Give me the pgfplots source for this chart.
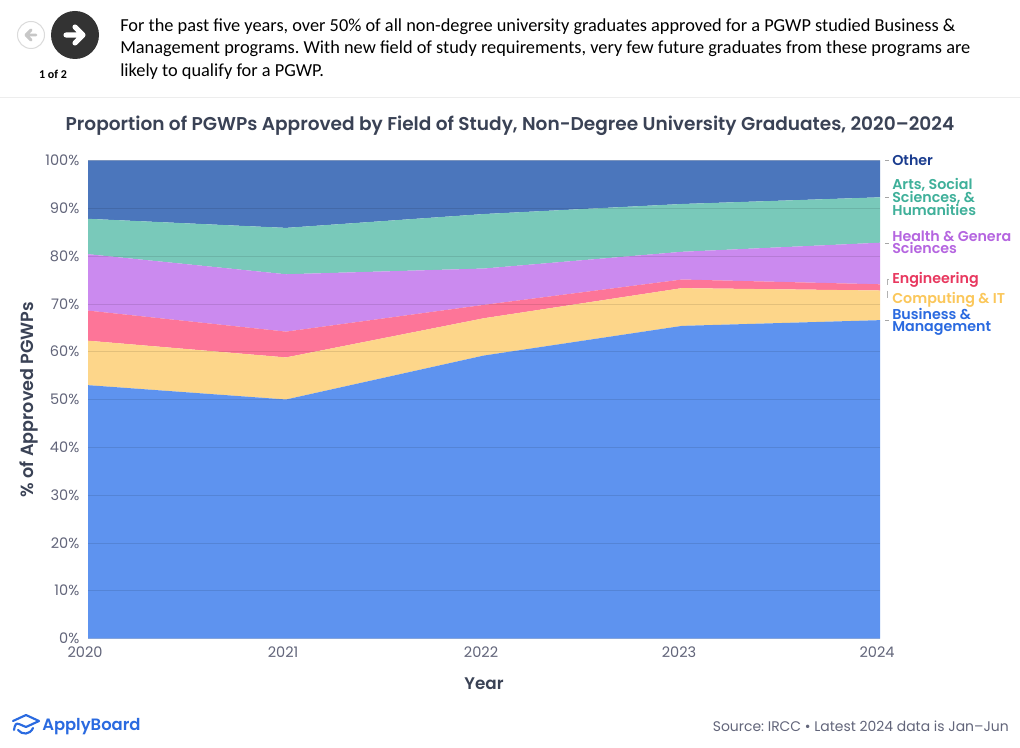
\documentclass[border=0pt]{standalone}
\usepackage{fontspec}
\usepackage{pgfplots}
\usepackage{pgfplotstable}
\pgfplotsset{compat=1.18}
\setmainfont{Poppins}
\newfontfamily\semi{Poppins SemiBold}
\newfontfamily\headfont{Carlito}
\definecolor{cbus}{HTML}{5E93EF}
\definecolor{ccomp}{HTML}{FDD68A}
\definecolor{ceng}{HTML}{FD7598}
\definecolor{chealth}{HTML}{CB8AEF}
\definecolor{carts}{HTML}{79C9BA}
\definecolor{cother}{HTML}{4B76BC}
\definecolor{tickgray}{HTML}{62657A}
\definecolor{titlegray}{HTML}{3A4255}
\definecolor{logoblue}{HTML}{2A6AE0}
\definecolor{lother}{HTML}{1B3D8F}
\definecolor{larts}{HTML}{3FB09A}
\definecolor{lhealth}{HTML}{B565E0}
\definecolor{leng}{HTML}{E8385F}
\definecolor{lcomp}{HTML}{FBC75A}

\pgfplotstableread{
year bus  comp eng  health arts other
2020 53.0 9.3  6.3  11.8   7.4  12.2
2021 50.0 8.8  5.4  12.0   9.7  14.1
2022 59.2 7.8  2.8  7.6    11.4 11.2
2023 65.4 7.9  1.8  5.8    10.0 9.1
2024 66.6 6.2  1.3  8.7    9.5  7.7
}\shares

\newcommand{\fs}[1]{\fontsize{#1}{#1}\selectfont}
\frenchspacing
\begin{document}
\begin{tikzpicture}
\useasboundingbox (0,0) rectangle (765pt,-561pt);
\fill[white] (0,0) rectangle (765pt,-561pt);
\begin{axis}[
    at={(66pt,-478.875pt)}, anchor=south west,
    scale only axis, width=594pt, height=358.5pt,
    xmin=2020, xmax=2024, ymin=0, ymax=100,
    stack plots=y, area style,
    axis on top,
    axis line style={draw=none},
    major tick style={draw=none},
    ymajorgrids, major grid style={black, opacity=0.10, line width=0.6pt},
    xtick={2020,2021,2022,2023,2024},
    ytick={0,10,...,100},
    yticklabel={\pgfmathprintnumber{\tick}\%},
    /pgf/number format/assume math mode=true,
    /pgf/number format/1000 sep={},
    tick label style={font=\fs{10.9}, text=tickgray},
    xticklabel style={xshift=-2.2pt, yshift=-3pt},
    yticklabel style={xshift=-3pt},
    xlabel={Year}, ylabel={\% of Approved PGWPs},
    xlabel style={font=\semi\fs{12.6}, text=titlegray, at={(axis description cs:0.5,0)}, anchor=center, yshift=-34pt},
    ylabel style={font=\semi\fs{13.2}, text=titlegray, at={(axis description cs:0,0.5)}, anchor=center, rotate=0, yshift=44.5pt},
]
\addplot[fill=cbus, draw=none] table[x=year,y=bus] {\shares} \closedcycle;
\addplot[fill=ccomp, draw=none] table[x=year,y=comp] {\shares} \closedcycle;
\addplot[fill=ceng, draw=none] table[x=year,y=eng] {\shares} \closedcycle;
\addplot[fill=chealth, draw=none] table[x=year,y=health] {\shares} \closedcycle;
\addplot[fill=carts, draw=none] table[x=year,y=arts] {\shares} \closedcycle;
\addplot[fill=cother, draw=none] table[x=year,y=other] {\shares} \closedcycle;
\end{axis}
\begin{scope}[x=0.75pt,y=-0.75pt]
% header
\draw[black!7, line width=0.75pt] (0,97.5) -- (1020,97.5);
\fill[white] (31,35) circle (13.5);
\draw[black!14, line width=0.75pt] (31,35) circle (13.5);
\draw[black!22, line width=2.2pt, line cap=round, line join=round] (36,35) -- (26,35) (31,30) -- (26,35) -- (31,40);
\fill[black!80] (75,35) circle (24);
\draw[white, line width=3.8pt, line cap=round, line join=round] (66,35) -- (83,35) (75,27) -- (83,35) -- (75,43);
\node[font=\headfont\bfseries\fs{9}, text=black] at (53,74) {1 of 2};
\begin{scope}[every node/.style={anchor=base west, inner sep=0pt, font=\headfont\fs{13.75}, text=black}]
\node at (120,31.5) {For the past five years, over 50\% of all non-degree university graduates approved for a PGWP studied Business \&};
\node at (120,53.5) {Management programs. With new field of study requirements, very few future graduates from these programs are};
\node at (120,76.5) {likely to qualify for a PGWP.};
\end{scope}
% title
\node[font=\semi\fs{13.9}, text=titlegray, inner sep=0pt] at (510,126) {Proportion of PGWPs Approved by Field of Study, Non-Degree University Graduates, 2020–2024};
% end labels
\begin{scope}
\clip (882,140) rectangle (1010,340);
\foreach \yy in {160,197,243,320} \draw[black!35, line width=0.6pt] (885,\yy) -- (889,\yy);
\draw[black!30, line width=0.6pt] (887,279) -- (889,279) (887,279) -- (887,285) (887,291) -- (887,298);
\begin{scope}[every node/.style={anchor=base west, inner sep=0pt, font=\semi\fs{10.7}}]
\node[text=lother] at (892,166) {Other};
\node[text=larts] at (892,190) {Arts, Social};
\node[text=larts] at (892,203) {Sciences, \&};
\node[text=larts] at (892,216) {Humanities};
\node[text=lhealth] at (892,242) {Health \& General};
\node[text=lhealth] at (892,254) {Sciences};
\node[text=leng] at (892,284) {Engineering};
\node[text=lcomp] at (892,304) {Computing \& IT};
\node[text=logoblue] at (892,320) {Business \&};
\node[text=logoblue] at (892,332) {Management};
\end{scope}
\end{scope}
% footer
\node[anchor=base east, inner sep=0pt, font=\fs{10.45}, text=tickgray] at (1009,731) {Source: IRCC • Latest 2024 data is Jan–Jun};
\draw[logoblue, line width=1.6pt, line join=round, line cap=round] (13,721) -- (26,715) -- (39,721) -- (26,727) -- (19,724);
\draw[logoblue, line width=1.6pt, line cap=round] (14,730) .. controls (15,724) and (16,723) .. (19,724) (18,730) .. controls (22,735) and (30,735) .. (33,728);
\node[anchor=base west, inner sep=0pt, font=\semi\fs{12.3}, text=logoblue] at (42,730) {ApplyBoard};
\end{scope}
\end{tikzpicture}
\end{document}
